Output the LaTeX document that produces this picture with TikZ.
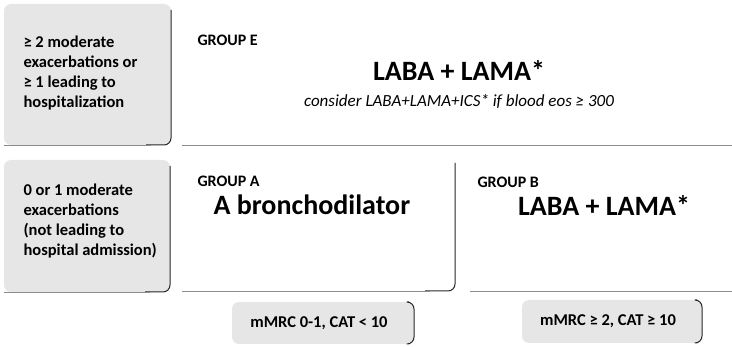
\documentclass[tikz,border=0pt]{standalone}
\usepackage{fontspec}
\setmainfont{Carlito}
\usepackage{tikz}
\usetikzlibrary{positioning}
\definecolor{gdedge}{RGB}{40,40,40}
\definecolor{gdshade}{RGB}{230,230,230}
\definecolor{gdline}{RGB}{140,140,140}
\tikzset{
  gdbox/.style={
    anchor=north west, inner sep=0pt, outer sep=0pt,
    rounded corners=7pt
  },
  crit/.style={gdbox, fill=gdshade},
  grp/.style={gdbox, fill=white},
  edge/.style={draw=gdedge, line width=1pt, rounded corners=7pt},
  base/.style={draw=gdline, line width=0.9pt},
  crittxt/.style={anchor=west, align=left, font=\fontsize{16.5}{19.7}\selectfont\bfseries},
  grptxt/.style={anchor=west, font=\fontsize{16}{18}\selectfont\bfseries},
  drug/.style={font=\fontsize{28}{32}\selectfont\bfseries},
  note/.style={font=\fontsize{17}{20}\selectfont\itshape},
  symp/.style={font=\fontsize{16.5}{19}\selectfont\bfseries},
  every picture/.append style={line join=round}
}
\begin{document}
\begin{tikzpicture}[x=1pt,y=-1pt]
  \useasboundingbox (0,0) rectangle (732,347);
  % exacerbation history, left column
  \node[crit, minimum width=167pt, minimum height=141pt] (hiex) at (4,4) {};
  \node[crit, minimum width=166pt, minimum height=132pt] (loex) at (4,160) {};
  \draw[edge] ([yshift=-6pt]hiex.north east) -- (hiex.south east) -- ([xshift=-25pt]hiex.south east);
  \draw[edge] ([yshift=-6pt]loex.north east) -- (loex.south east) -- ([xshift=-25pt]loex.south east);
  \draw[base] (hiex.south west) -- ([xshift=-20pt]hiex.south east);
  \draw[base] (loex.south west) -- ([xshift=-20pt]loex.south east);
  \node[crittxt] (hiextxt) at (20,73)
    {≥ 2 moderate\\exacerbations or\\≥ 1 leading to\\hospitalization};
  \node[crittxt] (loextxt) at (20,221)
    {0 or 1 moderate\\exacerbations\\(not leading to\\hospital admission)};
  % groups
  \node[grp, minimum width=550pt, minimum height=145pt] (grpE) at (182,0) {};
  \node[grp, minimum width=273pt, minimum height=131pt] (grpA) at (182,160) {};
  \node[grp, minimum width=262pt, minimum height=131pt] (grpB) at (470,160) {};
  \draw[base] (grpE.south west) -- (grpE.south east);
  \draw[edge] ([yshift=-3pt]grpA.north east) -- (grpA.south east) -- ([xshift=-30pt]grpA.south east);
  \draw[base] (grpA.south west) -- ([xshift=-25pt]grpA.south east);
  \draw[base] (grpB.south west) -- (grpB.south east);
  \node[grptxt] (labE) at (194,40) {GROUP E};
  \node[drug] (drugE) at (459,70) {LABA + LAMA*};
  \node[note, below=18pt of drugE.south, anchor=center] (noteE)
    {consider LABA+LAMA+ICS* if blood eos ≥ 300};
  \node[grptxt] (labA) at (194,181) {GROUP A};
  \node[drug, anchor=west] (drugA) at (210,205) {A bronchodilator};
  \node[grptxt] (labB) at (474,182) {GROUP B};
  \node[drug] (drugB) at (604,205) {LABA + LAMA*};
  % symptoms
  \node[crit, minimum width=182pt, minimum height=42pt] (sympA) at (232,302) {};
  \node[crit, minimum width=180pt, minimum height=43pt] (sympB) at (522,300) {};
  \draw[edge] ([xshift=-5pt]sympA.north east) -- (sympA.north east) -- (sympA.south east) -- ([xshift=-5pt]sympA.south east);
  \draw[edge] ([xshift=-5pt]sympB.north east) -- (sympB.north east) -- (sympB.south east) -- ([xshift=-5pt]sympB.south east);
  \node[symp] at ([xshift=-4pt]sympA.center) {mMRC 0-1, CAT < 10};
  \node[symp] at ([xshift=-4pt]sympB.center) {mMRC ≥ 2, CAT ≥ 10};
\end{tikzpicture}
\end{document}
